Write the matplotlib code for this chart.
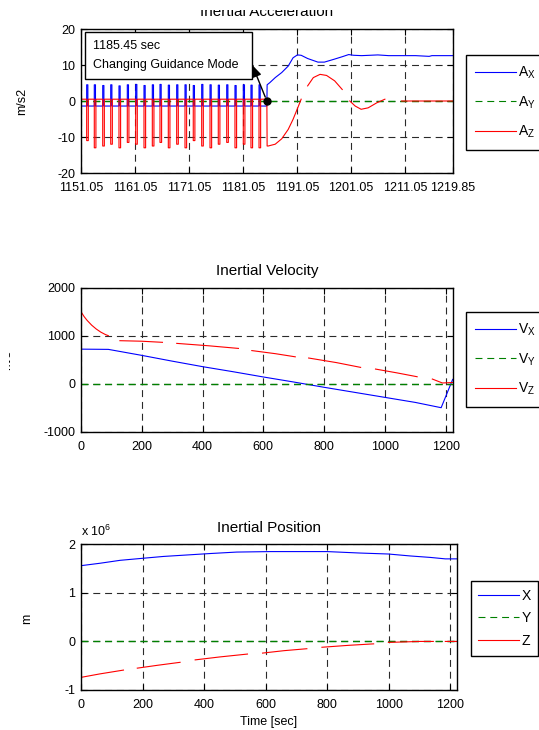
import numpy as np
import matplotlib
matplotlib.use("Agg")
import matplotlib.pyplot as plt
from matplotlib.lines import Line2D
from matplotlib.patches import Rectangle
from matplotlib.transforms import Bbox

plt.rcParams["font.family"] = ["Liberation Sans", "DejaVu Sans"]
plt.rcParams["mathtext.fontset"] = "custom"
plt.rcParams["mathtext.rm"] = "Liberation Sans"
plt.rcParams["mathtext.it"] = "Liberation Sans:italic"
plt.rcParams["lines.scale_dashes"] = False
plt.rcParams["axes.unicode_minus"] = False
plt.rcParams["font.size"] = 9

BLUE = "#0000ff"
GREEN = "#008000"
RED = "#ff0000"
DASH = (0, (5.0, 3.5))
LW = 0.8

# ---------------- Inertial acceleration ----------------
acc_t_start = 1151.05
acc_t_end = 1219.85
acc_xticks = [1151.05, 1161.05, 1171.05, 1181.05, 1191.05, 1201.05, 1211.05, 1219.85]
acc_yticks = [-20, -10, 0, 10, 20]

# guidance pulses before the mode change
pulse_t = [1152.10, 1153.51, 1155.07, 1156.55, 1158.08, 1159.62, 1161.17, 1162.71,
           1164.25, 1165.67, 1167.21, 1168.76, 1170.30, 1171.83, 1173.39, 1174.93,
           1176.46, 1178.02, 1179.55, 1181.09, 1182.51, 1184.00]
pulse_ax_peak = [4.5, 4.5, 4.3, 4.5, 4.2, 4.5, 4.6, 4.3, 4.5, 4.6, 4.4,
                 4.5, 4.5, 4.3, 4.6, 4.5, 4.4, 4.5, 4.3, 4.5, 4.4, 4.5]
pulse_az_trough = [-11.0, -13.0, -12.5, -12.0, -13.0, -11.5, -12.0, -13.0, -12.5, -11.5, -13.0,
                   -12.0, -13.0, -11.0, -12.5, -13.0, -12.0, -11.5, -13.0, -12.0, -13.0, -13.0]
ax_base = -1.4
az_base = 0.5

mode_change_t = 1185.45
mode_change_v = 0.0

# after the guidance mode change
ax_after_t = [1185.45, 1185.5, 1186.0, 1187.0, 1188.2, 1189.4, 1190.3, 1191.1, 1191.8,
              1193.0, 1194.9, 1196.1, 1197.9, 1199.4, 1200.6, 1201.5, 1203.0, 1204.5,
              1206.0, 1208.0, 1210.0, 1213.0, 1215.5, 1216.0, 1219.85]
ax_after_v = [-1.4, 4.5, 5.1, 6.5, 7.9, 9.7, 12.0, 12.8, 12.7,
              11.8, 10.8, 10.8, 11.6, 12.3, 12.9, 12.7, 12.6, 12.7,
              12.8, 12.6, 12.6, 12.6, 12.4, 12.6, 12.6]
az_after_t = [1185.45, 1185.5, 1185.7, 1187.0, 1188.2, 1189.4, 1190.3, 1191.3, 1191.8, np.nan,
              1193.0, 1194.05, 1195.3, 1196.5, 1198.0, 1199.4, np.nan,
              1200.8, 1201.8, 1202.9, 1204.2, 1205.8, 1207.3, np.nan,
              1210.4, 1219.85]
az_after_v = [az_base, -12.5, -12.5, -12.0, -10.5, -7.9, -5.1, -1.4, 0.5, np.nan,
              4.2, 6.5, 7.4, 7.1, 5.6, 3.2, np.nan,
              0.0, -1.4, -2.3, -1.9, -0.5, 0.5, np.nan,
              0.0, 0.0]

# ---------------- Inertial velocity ----------------
vel_xmax = 1223
vel_xticks = [0, 200, 400, 600, 800, 1000, 1200]
vel_yticks = [-1000, 0, 1000, 2000]
vx_t = [0, 90, 200, 300, 400, 500, 600, 700, 800, 900, 1000, 1100, 1185, 1223]
vx = [720, 715, 590, 470, 355, 250, 140, 35, -75, -180, -285, -390, -500, 90]
vz_t = [0, 10, 20, 35, 50, 65, 80, 90, np.nan, 128, 200, 268, np.nan, 315, 420, 518, np.nan,
        562, 640, 705, np.nan, 749, 840, 920, np.nan, 969, 1040, 1106, np.nan, 1156, 1189, 1223]
vz = [1500, 1400, 1320, 1220, 1140, 1075, 1025, 1000, np.nan, 896, 885, 862, np.nan, 840, 790, 735, np.nan,
      690, 625, 560, np.nan, 535, 440, 340, np.nan, 305, 225, 145, np.nan, 97, 15, 25]

# ---------------- Inertial position ----------------
pos_xmax = 1221
pos_xticks = [0, 200, 400, 600, 800, 1000, 1200]
pos_yticks = [-1e6, 0, 1e6, 2e6]
px_t = [0, 62, 127, 197, 268, 344, 420, 506, 615, 800, 907, 999, 1070, 1135, 1184, 1221]
px = [1.56e6, 1.61e6, 1.67e6, 1.71e6, 1.75e6, 1.78e6, 1.81e6, 1.84e6, 1.85e6, 1.85e6,
      1.82e6, 1.80e6, 1.76e6, 1.73e6, 1.70e6, 1.70e6]
pz_t = [0, 60, 138, np.nan, 183, 250, 322, np.nan, 371, 450, 541, np.nan, 590, 660, 734, np.nan,
        783, 870, 951, np.nan, 999, 1050, 1102, 1145, np.nan, 1184, 1221]
pz = [-0.74e6, -0.67e6, -0.59e6, np.nan, -0.55e6, -0.49e6, -0.43e6, np.nan, -0.38e6, -0.32e6, -0.26e6, np.nan,
      -0.24e6, -0.19e6, -0.15e6, np.nan, -0.12e6, -0.08e6, -0.05e6, np.nan, -0.02e6, -0.01e6, 0.0, 0.0, np.nan,
      0.0, 0.0]


def pulse_trace(times, levels, base, width, t0, t1):
    xs, ys = [t0], [base]
    for t, lv in zip(times, levels):
        xs += [t, t, t + width, t + width]
        ys += [base, lv, lv, base]
    xs.append(t1)
    ys.append(base)
    return xs, ys


W, H = 539, 730
fig = plt.figure(figsize=(W / 100, H / 100), dpi=100)


def px_axes(left, top, right, bottom):
    return fig.add_axes([left / W, 1 - bottom / H, (right - left) / W, (bottom - top) / H])


def style(ax):
    ax.set_axisbelow(True)
    ax.grid(True, color="#2a2a2a", linestyle=DASH, linewidth=0.8)
    ax.tick_params(direction="in", length=4, width=0.8, top=True, right=True,
                   labelsize=9, pad=4)
    ax.tick_params(axis="x", pad=6.5)
    for s in ax.spines.values():
        s.set_linewidth(1.0)
        s.set_color("k")


def legend(ax, labels, x, y, spacing, pad):
    handles = [Line2D([], [], color=BLUE, lw=LW),
               Line2D([], [], color=GREEN, lw=LW, linestyle=DASH),
               Line2D([], [], color=RED, lw=LW)]
    leg = ax.legend(handles, labels, loc="upper left", bbox_to_anchor=(x / W, 1 - y / H),
                    bbox_transform=fig.transFigure, frameon=True, fancybox=False,
                    edgecolor="k", framealpha=1, borderaxespad=0, handlelength=2.9,
                    handletextpad=0.2, labelspacing=spacing, borderpad=pad, fontsize=10)
    leg.get_frame().set_linewidth(1.0)
    return leg


# ---- panel 1: acceleration ----
ax1 = px_axes(81, 29, 452.7, 173)
style(ax1)
axx, axy = pulse_trace(pulse_t, pulse_ax_peak, ax_base, 0.22, acc_t_start, mode_change_t)
azx, azy = pulse_trace(pulse_t, pulse_az_trough, az_base, 0.3, acc_t_start, mode_change_t)
ax1.plot(axx + ax_after_t, axy + ax_after_v, color=BLUE, lw=LW)
ax1.plot([acc_t_start, acc_t_end], [0, 0], color=GREEN, lw=1.0, linestyle=DASH)
ax1.plot(azx + az_after_t, azy + az_after_v, color=RED, lw=LW)
ax1.set_xlim(acc_t_start, acc_t_end)
ax1.set_ylim(-20, 20)
ax1.set_xticks(acc_xticks)
ax1.set_xticklabels([f"{v:.2f}" for v in acc_xticks])
ax1.set_yticks(acc_yticks)
t1 = ax1.set_title("Inertial Acceleration", fontsize=11, pad=9)
t1.set_clip_box(Bbox.from_extents(0, 0, W, H - 10))
t1.set_clip_on(True)
fig.text(22 / W, 1 - 101 / H, "m/s2", rotation=90, ha="center", va="center", fontsize=9)

# mode-change marker and annotation
ax1.plot([mode_change_t], [mode_change_v], "o", color="k", ms=5, zorder=6)
ax1.add_patch(Rectangle((0.0108, 0.653), 0.449, 0.326, transform=ax1.transAxes,
                        facecolor="white", edgecolor="k", lw=1.0, zorder=5))
ax1.text(0.0315, 0.884, f"{mode_change_t:.2f} sec", transform=ax1.transAxes,
         ha="left", va="center", fontsize=9, zorder=6)
ax1.text(0.0315, 0.750, "Changing Guidance Mode", transform=ax1.transAxes,
         ha="left", va="center", fontsize=9, zorder=6)
ax1.annotate("", xy=(0.4608, 0.75), xycoords="axes fraction",
             xytext=(mode_change_t, mode_change_v), textcoords="data",
             arrowprops=dict(arrowstyle="-|>,head_length=0.5,head_width=0.2",
                             color="k", lw=1.0, shrinkA=3, shrinkB=0, mutation_scale=14),
             zorder=7)
legend(ax1, ["A$_\\mathrm{X}$", "A$_\\mathrm{Y}$", "A$_\\mathrm{Z}$"], 465.7, 55, 0.95, 0.7)

# ---- panel 2: velocity ----
ax2 = px_axes(81, 287.7, 452.7, 431.7)
style(ax2)
ax2.plot(vx_t, vx, color=BLUE, lw=LW)
ax2.plot([0, vel_xmax], [0, 0], color=GREEN, lw=1.0, linestyle=DASH)
ax2.plot(vz_t, vz, color=RED, lw=LW)
ax2.set_xlim(0, vel_xmax)
ax2.set_ylim(-1000, 2000)
ax2.set_xticks(vel_xticks)
ax2.set_yticks(vel_yticks)
ax2.set_title("Inertial Velocity", fontsize=11, pad=9)
yl2 = fig.text(13.5 / W, 1 - 360 / H, "m/s", rotation=90, ha="right", va="center", fontsize=9)
yl2.set_clip_box(Bbox.from_extents(9, 0, W, H))
yl2.set_clip_on(True)
legend(ax2, ["V$_\\mathrm{X}$", "V$_\\mathrm{Y}$", "V$_\\mathrm{Z}$"], 465.7, 312, 0.95, 0.7)

# ---- panel 3: position ----
ax3 = px_axes(81, 544.3, 456.7, 690)
style(ax3)
ax3.plot(px_t, px, color=BLUE, lw=LW)
ax3.plot([0, pos_xmax], [0, 0], color=GREEN, lw=1.0, linestyle=DASH)
ax3.plot(pz_t, pz, color=RED, lw=LW)
ax3.set_xlim(0, pos_xmax)
ax3.set_ylim(-1e6, 2e6)
ax3.set_xticks(pos_xticks)
ax3.set_yticks(pos_yticks)
ax3.set_yticklabels([f"{v / 1e6:g}" for v in pos_yticks])
ax3.set_title("Inertial Position", fontsize=11, pad=9)
fig.text(81 / W, 1 - 531.7 / H, "x 10$^{6}$", ha="left", va="center", fontsize=9)
fig.text(27 / W, 1 - 619 / H, "m", rotation=90, ha="center", va="center", fontsize=9)
fig.text(268.8 / W, 1 - 721.5 / H, "Time [sec]", ha="center", va="center", fontsize=9)
legend(ax3, ["X", "Y", "Z"], 470.7, 581, 0.62, 0.55)

fig.savefig("out.png", dpi=100)
